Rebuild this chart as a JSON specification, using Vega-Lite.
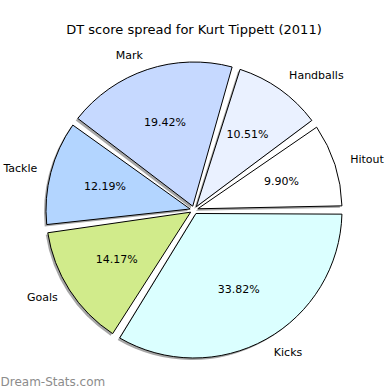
{
  "$schema": "https://vega.github.io/schema/vega-lite/v6.json",
  "width": 388,
  "height": 340,
  "autosize": "none",
  "padding": {"left": 0, "top": 40, "right": 2, "bottom": 10},
  "background": "white",
  "config": {"view": {"stroke": null}, "font": "DejaVu Sans"},
  "title": {
    "text": "DT score spread for Kurt Tippett (2011)",
    "font": "DejaVu Sans",
    "fontSize": 13,
    "fontWeight": "normal",
    "color": "black",
    "anchor": "middle",
    "offset": 3
  },
  "layer": [
    {
      "data": {
        "values": [
          {"label": "Hitout", "share": 0.0990, "k": 1},
          {"label": "Handballs", "share": 0.1051, "k": 2},
          {"label": "Mark", "share": 0.1942, "k": 3},
          {"label": "Tackle", "share": 0.1219, "k": 4},
          {"label": "Goals", "share": 0.1417, "k": 5},
          {"label": "Kicks", "share": 0.3382, "k": 6}
        ]
      },
      "encoding": {
        "theta": {"field": "share", "type": "quantitative", "stack": true, "scale": {"range": [1.5708, -4.7124]}},
        "order": {"field": "k", "type": "quantitative"}
      },
      "layer": [
        {
          "mark": {"type": "arc", "outerRadius": 148, "innerRadius": 4, "padAngle": 0.056, "fill": "#4d4d4d", "opacity": 0.5, "xOffset": -2, "yOffset": 2}
        },
        {
          "mark": {"type": "arc", "outerRadius": 148, "innerRadius": 4, "padAngle": 0.056, "stroke": "black", "strokeWidth": 1},
          "encoding": {
            "color": {
              "field": "label",
              "type": "nominal",
              "scale": {
                "domain": ["Hitout", "Handballs", "Mark", "Tackle", "Goals", "Kicks"],
                "range": ["#ffffff", "#eaf1ff", "#c6d9ff", "#b3d5ff", "#d1eb8b", "#dbffff"]
              },
              "legend": null
            }
          }
        },
        {
          "mark": {"type": "text", "radius": 92, "fontSize": 11, "font": "DejaVu Sans", "color": "black", "align": "center", "baseline": "middle"},
          "encoding": {"text": {"field": "share", "type": "quantitative", "format": ".2%"}}
        },
        {
          "mark": {"type": "text", "radius": 164, "fontSize": 11, "font": "DejaVu Sans", "color": "black", "align": "left", "baseline": "middle"},
          "encoding": {
            "text": {
              "condition": {"test": "indexof(['Hitout','Handballs','Kicks'], datum.label) >= 0", "field": "label", "type": "nominal"},
              "value": ""
            }
          }
        },
        {
          "mark": {"type": "text", "radius": 162, "fontSize": 11, "font": "DejaVu Sans", "color": "black", "align": "right", "baseline": "middle"},
          "encoding": {
            "text": {
              "condition": {"test": "indexof(['Hitout','Handballs','Kicks'], datum.label) < 0", "field": "label", "type": "nominal"},
              "value": ""
            }
          }
        }
      ]
    },
    {
      "data": {"values": [{"w": 0}]},
      "mark": {"type": "text", "text": ""},
      "encoding": {
        "x": {
          "field": "w",
          "type": "quantitative",
          "scale": {"domain": [0, 1]},
          "axis": {
            "title": "Dream-Stats.com",
            "titleAnchor": "start",
            "titleAlign": "left",
            "titleX": 0,
            "titleY": 5,
            "titleBaseline": "alphabetic",
            "titleFont": "DejaVu Sans",
            "titleFontSize": 12,
            "titleFontWeight": "normal",
            "titleColor": "#8c8c8c",
            "domain": false,
            "ticks": false,
            "labels": false,
            "grid": false
          }
        }
      }
    }
  ]
}
